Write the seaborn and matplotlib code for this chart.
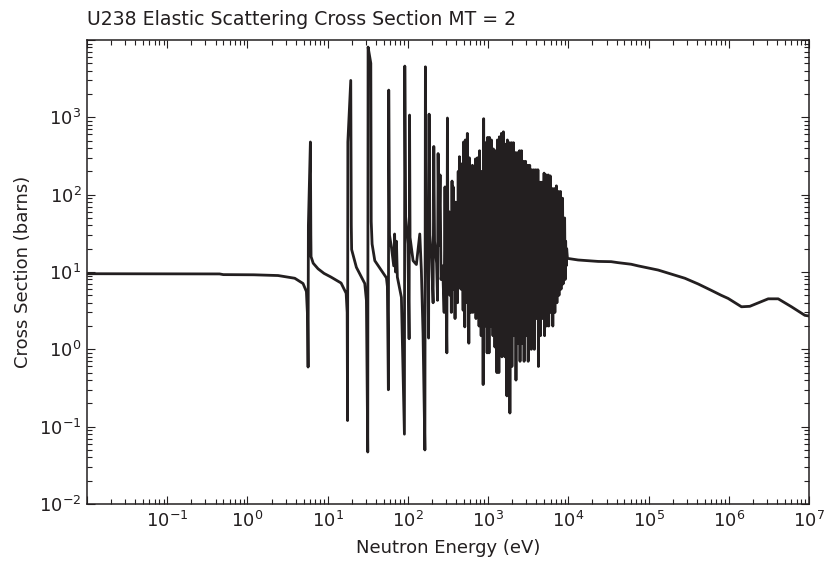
import numpy as np
import pandas as pd
import matplotlib
matplotlib.use("Agg")
import matplotlib.pyplot as plt
import seaborn as sns
from matplotlib.ticker import FixedLocator, FuncFormatter, LogLocator, NullFormatter

title = "U238 Elastic Scattering Cross Section MT = 2"
x_label = "Neutron Energy (eV)"
y_label = "Cross Section (barns)"

# (energy eV, cross section barns)
thermal_points = [
    (0.01, 9.5), (0.04, 9.48), (0.15, 9.46), (0.45, 9.44), (0.5, 9.25),
    (1.2, 9.2), (2.41, 9.0), (3.89, 8.3), (4.93, 7.1), (5.43, 5.6),
]

low_resonances = [
    (5.62, 2.6), (5.70, 0.59), (5.75, 40), (6.09, 480), (6.17, 30), (6.21, 15.8),
    (6.6, 13), (7.59, 11), (9.0, 9.6), (11.0, 8.6), (14.7, 7.2), (17.0, 5.3),
    (17.5, 3.0), (17.7, 0.12), (17.85, 480), (19.4, 3000), (19.7, 40), (19.9, 19.5),
    (22.8, 11.5), (29.0, 7.1), (30.4, 4.3), (31.6, 0.047), (31.9, 8100), (34.5, 5000),
    (34.9, 45), (35.8, 23), (38.7, 14), (46.7, 10.5), (54.0, 8.4), (55.5, 6.5),
    (57.1, 0.30), (57.7, 2250), (59.0, 30), (62.3, 21), (66.6, 12), (68.3, 31),
    (70.1, 10), (72.0, 25), (73.9, 8.6), (83.0, 4.7), (90.5, 0.08), (91.5, 4600),
    (93.7, 52), (95.9, 40), (100.0, 23), (103.5, 1.37), (104.9, 1070), (106.4, 28),
    (116.1, 14), (127.6, 12.5), (140.7, 31), (147.2, 10.5), (154.4, 1.6), (162.9, 0.05),
    (165.3, 4500), (169.5, 40), (176.1, 25), (181.2, 1.4), (183.8, 1100), (188.1, 30),
    (197.5, 15), (206.2, 4.0), (210.4, 420), (215.0, 25), (228.0, 13), (234.0, 4.3),
    (238.0, 340), (244.0, 22), (252.0, 180), (259.0, 8), (271.0, 12), (283.0, 3),
]

dense_resonances = [
    (290, 126), (294, 14), (300, 4), (306, 0.9), (311, 980), (315, 25), (321, 7),
    (328, 60), (334, 5), (341, 40), (348, 3), (355, 150), (361, 9), (367, 126),
    (373, 6), (380, 45), (387, 2.5), (394, 80), (401, 8), (409, 30), (416, 4),
    (424, 200), (431, 7), (439, 310), (446, 10), (452, 50), (458, 6), (465, 250),
    (471, 12), (479, 40), (488, 3.2), (494, 480), (500, 8), (506, 60), (512, 1.95),
    (520, 510), (527, 4), (535, 90), (543, 7), (551, 620), (559, 6), (567, 40),
    (575, 1.2), (583, 300), (592, 9), (601, 190), (610, 3), (619, 55), (628, 7),
    (637, 240), (646, 3), (656, 120), (666, 4.0), (676, 60), (686, 5), (696, 290),
    (706, 2.5), (716, 70), (727, 4.0), (738, 300), (749, 6), (760, 140), (771, 2),
    (783, 370), (795, 8), (807, 85), (819, 1.5), (831, 200), (843, 6), (856, 60),
    (867, 0.35), (880, 960), (893, 10), (906, 60), (919, 2), (932, 470), (945, 6),
    (958, 150), (971, 0.9), (985, 550), (999, 4), (1013, 100), (1027, 0.9),
    (1041, 550), (1056, 8), (1071, 180), (1086, 2), (1101, 510), (1117, 5),
    (1133, 70), (1149, 1.5), (1165, 390), (1182, 7), (1199, 120), (1216, 1.07),
    (1233, 370), (1251, 5), (1269, 90), (1287, 0.5), (1305, 510), (1324, 4),
    (1343, 150), (1362, 0.5), (1382, 560), (1402, 2), (1422, 120), (1443, 6),
    (1464, 620), (1485, 0.8), (1506, 200), (1528, 2.0), (1550, 650), (1572, 5),
    (1595, 120), (1618, 0.8), (1641, 450), (1665, 3), (1689, 80), (1714, 0.25),
    (1739, 510), (1764, 1.5), (1790, 200), (1816, 4), (1842, 470), (1869, 0.15),
    (1896, 150), (1924, 2.5), (1952, 470), (1981, 0.6), (2010, 250), (2039, 5),
    (2069, 470), (2099, 1.5), (2130, 160), (2161, 2.5), (2193, 350), (2225, 0.4),
    (2257, 120), (2290, 4), (2324, 350), (2358, 1.2), (2392, 100), (2427, 3),
    (2463, 370), (2499, 0.7), (2536, 150), (2573, 4), (2611, 370), (2649, 1.2),
    (2688, 130), (2728, 3), (2768, 270), (2809, 0.7), (2850, 90), (2892, 2),
    (2935, 270), (2978, 1.5), (3022, 100), (3067, 3), (3112, 240), (3158, 0.7),
    (3205, 120), (3252, 4), (3300, 240), (3349, 2), (3398, 80), (3449, 1.0),
    (3500, 210), (3552, 5), (3605, 100), (3658, 2), (3712, 210), (3767, 1.0),
    (3823, 70), (3880, 3.5), (3937, 210), (3995, 2.5), (4054, 90), (4114, 3.5),
    (4175, 210), (4237, 0.6), (4300, 60), (4364, 4), (4429, 145), (4495, 1.5),
    (4562, 80), (4630, 5), (4699, 145), (4769, 2.5), (4840, 70), (4912, 4),
    (4985, 190), (5059, 1.5), (5134, 60), (5210, 5), (5287, 180), (5366, 2),
    (5446, 60), (5527, 4), (5609, 180), (5692, 2), (5777, 50), (5863, 5),
    (5950, 175), (6038, 3), (6128, 50), (6219, 5), (6311, 120), (6405, 2),
    (6500, 45), (6597, 6), (6695, 120), (6795, 3), (6896, 40), (6998, 5),
    (7102, 130), (7208, 4), (7315, 40), (7424, 6), (7534, 110), (7646, 5),
    (7760, 35), (7875, 6), (7992, 110), (8111, 6), (8231, 30), (8353, 8),
    (8477, 90), (8603, 7), (8731, 30), (8861, 9), (8993, 50), (9126, 8),
    (9262, 25), (9400, 12), (9540, 20), (9750, 15),
]

fast_points = [
    (13250, 14.3), (23530, 13.7), (34180, 13.6), (41780, 13.2), (60670, 12.6),
    (74130, 12.0), (131700, 10.6), (283600, 8.3), (415500, 7.0), (603300, 5.8),
    (803800, 5.0), (982800, 4.55), (1.44e6, 3.55), (1.83e6, 3.6), (3.10e6, 4.5),
    (4.13e6, 4.5), (6.05e6, 3.55), (8.89e6, 2.75), (1.0e7, 2.7),
]

x_label_decades = [-1, 0, 1, 2, 3, 4, 5, 6, 7]
y_label_decades = [-2, -1, 0, 1, 2, 3]

points = thermal_points + low_resonances + dense_resonances + fast_points
df = pd.DataFrame(points, columns=["energy", "sigma"])

sns.set_style("ticks")
plt.rcParams["font.family"] = ["DejaVu Sans"]
plt.rcParams["mathtext.fontset"] = "dejavusans"

ink = "#231f20"
fs = 13
fig = plt.figure(figsize=(8.27, 5.73), dpi=100)
ax = fig.add_axes([87 / 827, 1 - 504 / 573, (809 - 87) / 827, (504 - 40) / 573])
ax.set_xscale("log")
ax.set_yscale("log")

sns.lineplot(data=df, x="energy", y="sigma", sort=False, estimator=None,
             color=ink, linewidth=2.0, ax=ax)

ax.set_xlim(1e-2, 1e7)
ax.set_ylim(1e-2, 1e4)

ax.xaxis.set_major_locator(FixedLocator([10.0 ** k for k in range(-2, 8)]))
ax.yaxis.set_major_locator(FixedLocator([10.0 ** k for k in range(-2, 5)]))
ax.xaxis.set_minor_locator(LogLocator(base=10, subs=np.arange(2, 10), numticks=30))
ax.yaxis.set_minor_locator(LogLocator(base=10, subs=np.arange(2, 10), numticks=30))
ax.xaxis.set_minor_formatter(NullFormatter())
ax.yaxis.set_minor_formatter(NullFormatter())


def make_fmt(allowed):
    def f(v, _):
        k = int(round(np.log10(v)))
        return r"$\mathdefault{10^{%d}}$" % k if k in allowed else ""
    return f


ax.xaxis.set_major_formatter(FuncFormatter(make_fmt(x_label_decades)))
ax.yaxis.set_major_formatter(FuncFormatter(make_fmt(y_label_decades)))

ax.tick_params(which="both", direction="in", top=True, right=True, colors=ink,
               labelcolor=ink, width=0.8)
ax.tick_params(which="major", length=6, labelsize=fs)
ax.tick_params(axis="x", which="major", pad=5)
ax.tick_params(axis="y", which="major", pad=4)
ax.tick_params(which="minor", length=3.5)
for s in ax.spines.values():
    s.set_linewidth(1.1)
    s.set_color(ink)

ax.set_xlabel(x_label, fontsize=fs, color=ink, labelpad=6)
ax.set_ylabel(y_label, fontsize=fs, color=ink, labelpad=5)
ax.set_title(title, loc="left", fontsize=13.6, color=ink, pad=11)

fig.savefig("out.png", dpi=100)
